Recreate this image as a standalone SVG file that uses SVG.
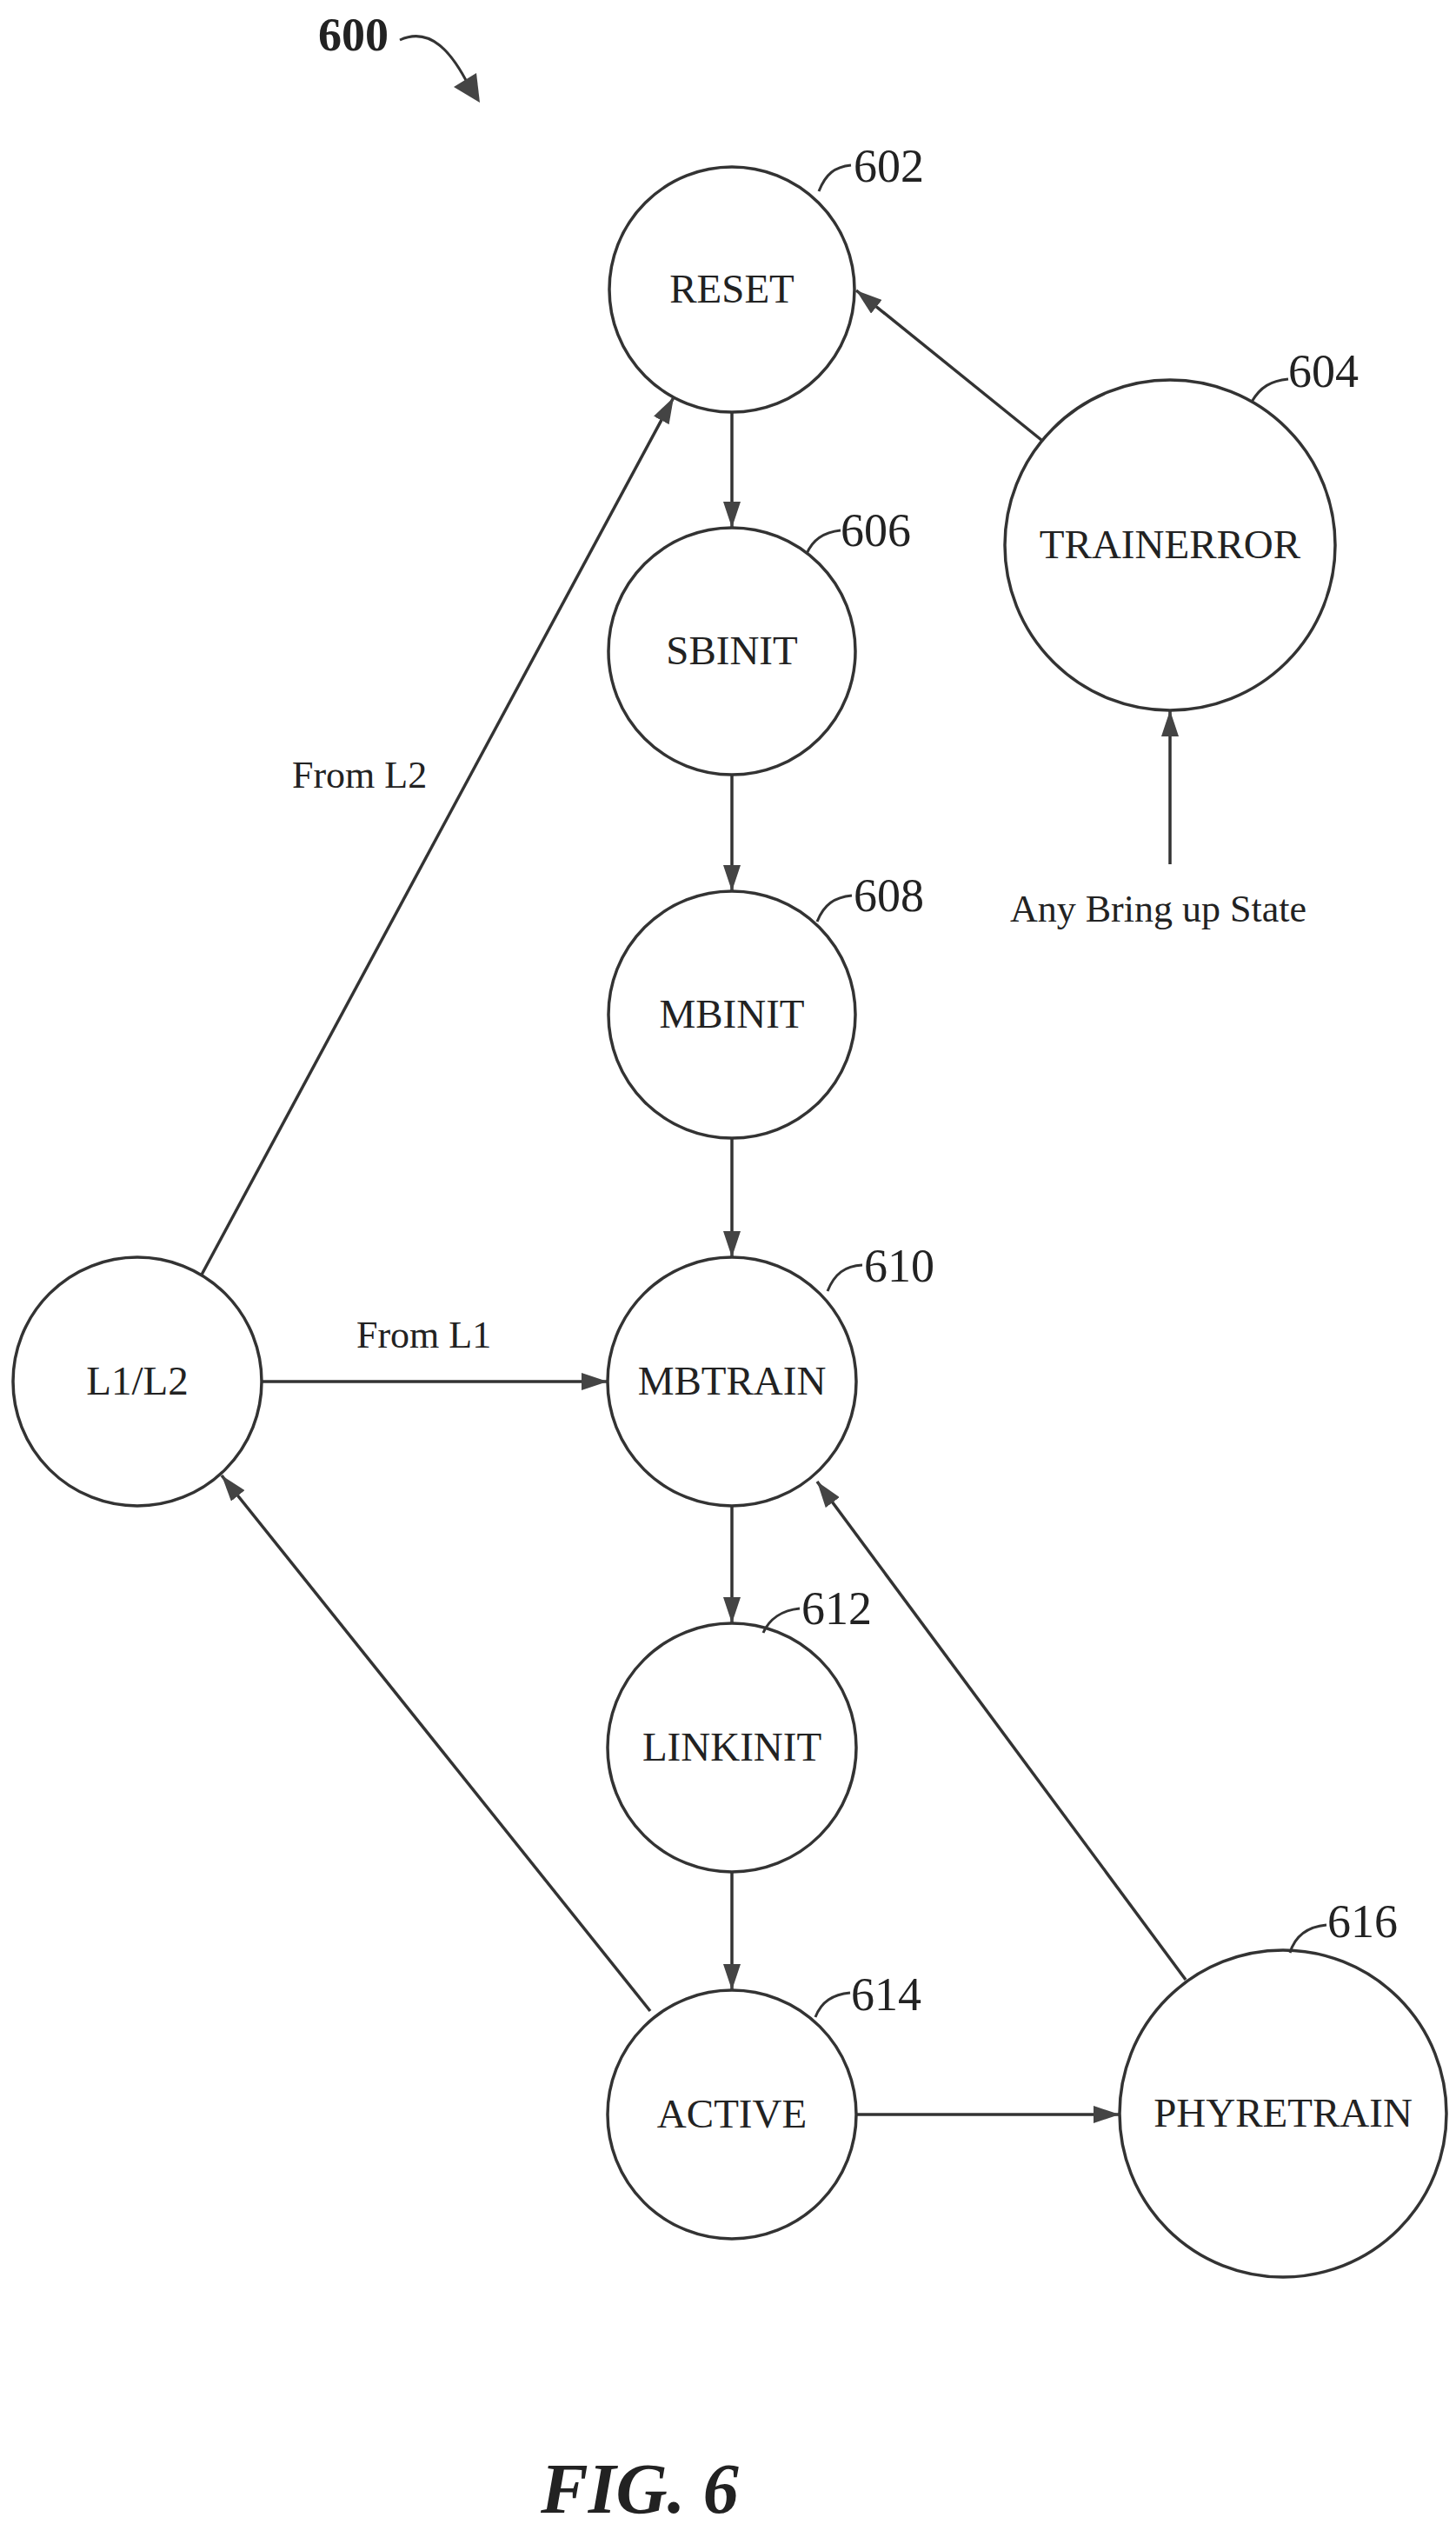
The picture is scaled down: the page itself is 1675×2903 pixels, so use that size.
<svg xmlns="http://www.w3.org/2000/svg" width="1675" height="2903" viewBox="0 0 1675 2903">
<style>
circle{fill:none;stroke:#333;stroke-width:3.5}
.c line,.c path{stroke:#333;stroke-width:3.5;fill:none}
.ld{stroke:#333;stroke-width:3;fill:none}
text{font-family:"Liberation Serif",serif;fill:#222}
.n{font-size:47px;text-anchor:middle}
.r{font-size:54px}
.l{font-size:44px}
</style>
<defs>
<marker id="ah" viewBox="0 0 30 20" refX="30" refY="10" markerWidth="30" markerHeight="20" markerUnits="userSpaceOnUse" orient="auto"><path d="M0,0 L30,10 L0,20 Z" fill="#444"/></marker>
</defs>
<g id="title"><text x="366" y="58" class="r" font-weight="bold">600</text>
<path class="ld" d="M460,46 C495,30 520,60 540,100"/><path d="M522,100 L552,118 L548,84 Z" fill="#444"/></g>
<g id="n602"><circle cx="842" cy="333" r="141"/><text class="n" x="842" y="348">RESET</text><path class="ld" d="M942,220 C950,200 960,192 979,190"/><text class="r" x="982" y="209">602</text></g>
<g id="n604"><circle cx="1346" cy="627" r="190"/><text class="n" x="1346" y="642">TRAINERROR</text><path class="ld" d="M1440,462 C1450,445 1462,438 1482,436"/><text class="r" x="1482" y="445">604</text></g>
<g id="n606"><circle cx="842" cy="749" r="142"/><text class="n" x="842" y="764">SBINIT</text><path class="ld" d="M928,637 C935,620 948,612 967,610"/><text class="r" x="967" y="628">606</text></g>
<g id="n608"><circle cx="842" cy="1167" r="142"/><text class="n" x="842" y="1182">MBINIT</text><path class="ld" d="M940,1060 C948,1040 960,1032 980,1030"/><text class="r" x="982" y="1048">608</text></g>
<g id="n610"><circle cx="842" cy="1589" r="143"/><text class="n" x="842" y="1604">MBTRAIN</text><path class="ld" d="M952,1485 C960,1465 972,1456 992,1455"/><text class="r" x="994" y="1474">610</text></g>
<g id="n612"><circle cx="842" cy="2010" r="143"/><text class="n" x="842" y="2025">LINKINIT</text><path class="ld" d="M878,1878 C885,1862 900,1852 920,1850"/><text class="r" x="922" y="1868">612</text></g>
<g id="n614"><circle cx="842" cy="2432" r="143"/><text class="n" x="842" y="2447">ACTIVE</text><path class="ld" d="M938,2320 C945,2302 958,2294 978,2292"/><text class="r" x="979" y="2312">614</text></g>
<g id="n616"><circle cx="1476" cy="2431" r="188"/><text class="n" x="1476" y="2446">PHYRETRAIN</text><path class="ld" d="M1484,2246 C1490,2226 1505,2216 1526,2214"/><text class="r" x="1527" y="2228">616</text></g>
<g id="nL"><circle cx="158" cy="1589" r="143"/><text class="n" x="158" y="1604">L1/L2</text></g>
<g class="c" id="connectors">
<line x1="842" y1="474" x2="842" y2="607" marker-end="url(#ah)"/>
<line x1="842" y1="891" x2="842" y2="1025" marker-end="url(#ah)"/>
<line x1="842" y1="1309" x2="842" y2="1446" marker-end="url(#ah)"/>
<line x1="842" y1="1732" x2="842" y2="1867" marker-end="url(#ah)"/>
<line x1="842" y1="2153" x2="842" y2="2289" marker-end="url(#ah)"/>
<line x1="1198" y1="506" x2="985" y2="334" marker-end="url(#ah)"/>
<line x1="1346" y1="994" x2="1346" y2="817" marker-end="url(#ah)"/>
<line x1="232" y1="1466" x2="775" y2="457" marker-end="url(#ah)"/>
<line x1="301" y1="1589" x2="699" y2="1589" marker-end="url(#ah)"/>
<line x1="748" y1="2313" x2="255" y2="1697" marker-end="url(#ah)"/>
<line x1="1364" y1="2277" x2="940" y2="1704" marker-end="url(#ah)"/>
<line x1="986" y1="2432" x2="1288" y2="2432" marker-end="url(#ah)"/>
</g>
<g id="labels">
<text class="l" x="336" y="906">From L2</text>
<text class="l" x="410" y="1550">From L1</text>
<text class="l" x="1162" y="1060">Any Bring up State</text>
<text x="622" y="2890" font-size="82" font-weight="bold" font-style="italic">FIG. 6</text>
</g>
</svg>
